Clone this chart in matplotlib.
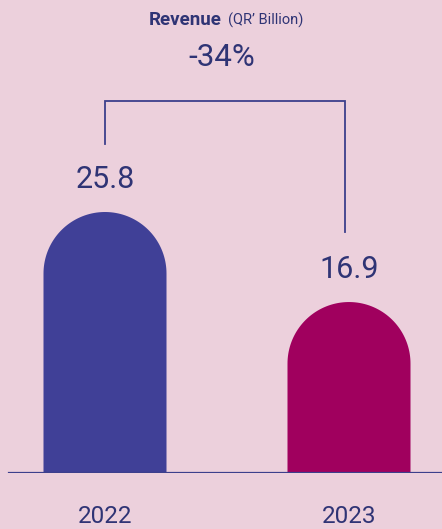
import numpy as np
import matplotlib.pyplot as plt
from matplotlib.patches import Polygon

# Data
years = ['2022', '2023']
revenue = [25.8, 16.9]
bar_colors = ['#404097', '#a0005e']

BG = '#ecd0dc'
NAVY = '#2f3475'
LINE = '#3c3f8c'

W, H = 442, 529
fig = plt.figure(figsize=(W / 100, H / 100), dpi=100, facecolor=BG)

# axes: baseline at 473 px from top, full width
base_px = 473
ax = fig.add_axes([0, (H - base_px) / H, 1, base_px / H])
ax.set_facecolor(BG)
px_per_unit = 261 / revenue[0]
ax.set_ylim(0, base_px / px_per_unit)
ax.set_xlim(-105 / 244, 1 + (W - 349) / 244)
for s in ax.spines.values():
    s.set_visible(False)
ax.set_xticks([])
ax.set_yticks([])

bar_w = 123 / 244
ry = (123 / 2) / px_per_unit
t = np.linspace(0, np.pi, 80)
for i, (v, c) in enumerate(zip(revenue, bar_colors)):
    # bar with a semicircular top
    arc_x = i + bar_w / 2 * np.cos(t)
    arc_y = v - ry + ry * np.sin(t)
    xs = np.concatenate([[i + bar_w / 2], arc_x, [i - bar_w / 2]])
    ys = np.concatenate([[0], arc_y, [0]])
    ax.add_patch(Polygon(np.column_stack([xs, ys]), closed=True, color=c, lw=0))
    ax.text(i, v + 1.8, f'{v:.1f}', ha='center', va='bottom', fontsize=22,
            color=NAVY, family='Roboto')
    ax.text(i, -3.2, years[i], ha='center', va='top', fontsize=17.5,
            color=NAVY, family='Roboto', clip_on=False)

ax.axhline(0, xmin=9 / W, xmax=1, color=LINE, lw=1.6)

# change bracket
top_y = (base_px - 101) / px_per_unit
ax.plot([0, 0, 0.984, 0.984],
        [(base_px - 144) / px_per_unit, top_y, top_y, (base_px - 232) / px_per_unit],
        color=LINE, lw=1.3, solid_joinstyle='miter')

change = (revenue[1] - revenue[0]) / revenue[0] * 100
fig.text(222 / W, 1 - 58 / H, f'{change:.0f}%', ha='center', va='center',
         fontsize=22.5, color=NAVY, family='Roboto')

# title
fig.text(222 / W, 1 - 25 / H, 'Revenue', ha='right', va='baseline',
         fontsize=13.5, fontweight='bold', color=NAVY, family='Roboto')
fig.text(228 / W, 1 - 25 / H, '(QR\u2019 Billion)', ha='left', va='baseline',
         fontsize=10.5, color=NAVY, family='Roboto')

fig.savefig('out.png', dpi=100, facecolor=BG)
